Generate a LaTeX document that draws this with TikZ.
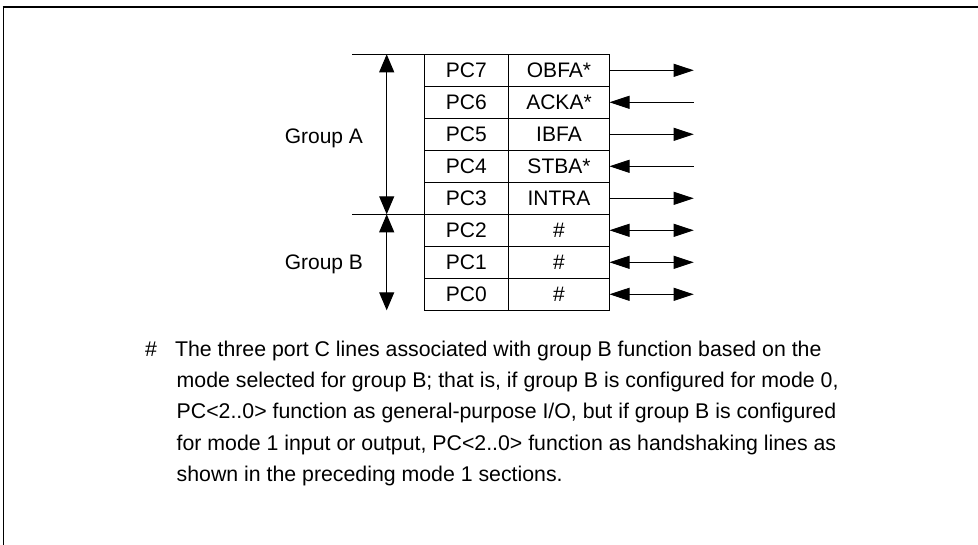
\documentclass[tikz,border=0pt]{standalone}
\usepackage{fontspec}
\setmainfont{Liberation Sans}
\usetikzlibrary{arrows.meta}
\begin{document}
\begin{tikzpicture}[x=1pt,y=-1pt,
  txt/.style={inner sep=0pt, outer sep=0pt, font=\fontsize{21}{24}\selectfont},
  cell/.style={txt, draw, line width=1pt, minimum height=32pt},
  pccell/.style={cell, minimum width=84.2pt},
  sigcell/.style={cell, minimum width=101pt},
  rule/.style={line width=1pt},
  hout/.style={line width=1pt, -{Triangle[length=20pt,width=13pt]}},
  hin/.style={line width=1pt, {Triangle[length=20pt,width=13pt]}-},
  hbi/.style={line width=1pt, {Triangle[length=20pt,width=13pt]}-{Triangle[length=20pt,width=13pt]}},
  grp/.style={line width=1pt, {Triangle[length=18pt,width=15pt]}-{Triangle[length=18pt,width=15pt]}},
  note/.style={txt, anchor=base west, font=\fontsize{21.3}{24}\selectfont}
]
\useasboundingbox (0,0) rectangle (978,544);
% frame
\coordinate (fBL) at (3.3,546);
\coordinate (fTL) at (3.3,7.3);
\coordinate (fTR) at (980,7.3);
\draw[line width=1.6pt] (fBL) -- (fTL);
\draw[line width=2pt] (2.5,7.3) -- (fTR);

% table cells
\foreach \n/\pc/\sig [count=\i from 0] in {7/PC7/OBFA*,6/PC6/ACKA*,5/PC5/IBFA,4/PC4/STBA*,3/PC3/INTRA,2/PC2/\#,1/PC1/\#,0/PC0/\#}{
  \node[pccell] (p\n) at (466.4,{70.3+32*\i}) {\pc};
  \node[sigcell] (s\n) at (559,{70.3+32*\i}) {\sig};
  \coordinate (e\n) at (693.7,{70.3+32*\i});
}

% signal arrows
\draw[hout] (s7.east) -- (e7);
\draw[hin]  (s6.east) -- (e6);
\draw[hout] (s5.east) -- (e5);
\draw[hin]  (s4.east) -- (e4);
\draw[hout] (s3.east) -- (e3);
\draw[hbi]  (s2.east) -- (e2);
\draw[hbi]  (s1.east) -- (e1);
\draw[hbi]  (s0.east) -- (e0);

% group rules and arrows
\coordinate (topL) at (352,54.3);
\coordinate (midL) at (352,214.3);
\draw[rule] (topL) -- (p7.north west);
\draw[rule] (midL) -- (p3.south west);
\coordinate (gaT) at (386.7,54.3);
\coordinate (gaB) at (386.7,214.3);
\coordinate (gbB) at (386.7,310.3);
\draw[grp] (gaT) -- (gaB);
\draw[grp] (gaB) -- (gbB);
\node[txt, anchor=base east] (ga) at (363,143.3) {Group A};
\node[txt, anchor=base east] (gb) at (363,269.5) {Group B};

% footnote
\node[note] (hash) at (145,356) {\#};
\node[note] (l1) at (175,356) {The three port C lines associated with group B function based on the};
\node[note] (l2) at (176.7,387.3) {mode selected for group B; that is, if group B is configured for mode 0,};
\node[note] (l3) at (176.7,418.7) {PC<2..0> function as general-purpose I/O, but if group B is configured};
\node[note] (l4) at (176.7,450) {for mode 1 input or output, PC<2..0> function as handshaking lines as};
\node[note] (l5) at (176.7,481.5) {shown in the preceding mode 1 sections.};
\end{tikzpicture}
\end{document}
